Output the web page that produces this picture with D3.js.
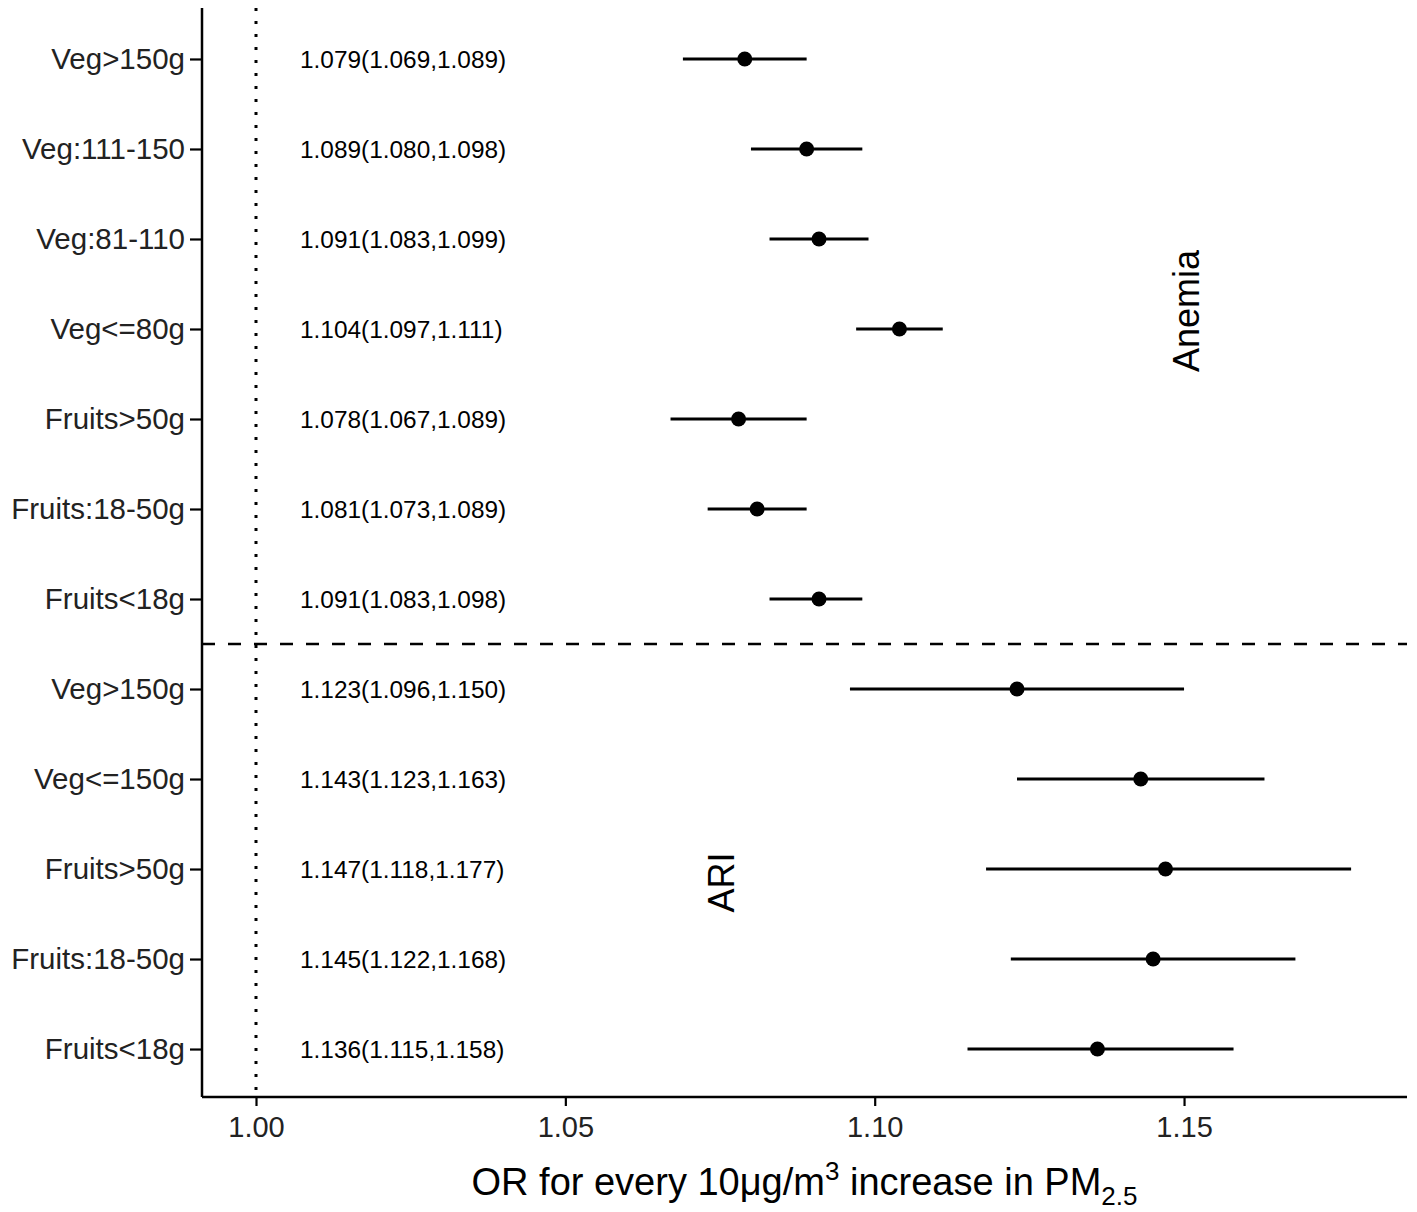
<!DOCTYPE html>
<html>
<head>
<meta charset="utf-8">
<script src="https://cdn.jsdelivr.net/npm/d3@7"></script>
<style>
  body { margin: 0; background: #fff; }
  svg { font-family: "Liberation Sans", Arial, sans-serif; }
</style>
</head>
<body>
<svg id="chart"></svg>
<script>
// rows, top to bottom
const rowLabels = ["Veg>150g", "Veg:111-150", "Veg:81-110", "Veg<=80g", "Fruits>50g", "Fruits:18-50g", "Fruits<18g",
                   "Veg>150g", "Veg<=150g", "Fruits>50g", "Fruits:18-50g", "Fruits<18g"];
const outcome = ["Anemia", "Anemia", "Anemia", "Anemia", "Anemia", "Anemia", "Anemia",
                 "ARI", "ARI", "ARI", "ARI", "ARI"];
const oddsRatio = [1.079, 1.089, 1.091, 1.104, 1.078, 1.081, 1.091, 1.123, 1.143, 1.147, 1.145, 1.136];
const ciLower   = [1.069, 1.080, 1.083, 1.097, 1.067, 1.073, 1.083, 1.096, 1.123, 1.118, 1.122, 1.115];
const ciUpper   = [1.089, 1.098, 1.099, 1.111, 1.089, 1.089, 1.098, 1.150, 1.163, 1.177, 1.168, 1.158];
const xTicks = [1.00, 1.05, 1.10, 1.15];

const width = 1417;
const height = 1212;
const plotLeft = 202, plotRight = 1407, plotTop = 8, plotBottom = 1097;
const pxPerUnit = 6187, xOne = 256;

const svg = d3.select('#chart')
  .attr('width', width)
  .attr('height', height);

const x = d3.scaleLinear()
  .domain([1 - (xOne - plotLeft) / pxPerUnit, 1 + (plotRight - xOne) / pxPerUnit])
  .range([plotLeft, plotRight]);

const y = d3.scalePoint()
  .domain(d3.range(rowLabels.length))
  .range([11, plotBottom])
  .padding(0.533);

const rows = rowLabels.map((label, i) => ({
  i, label, group: outcome[i], or: oddsRatio[i], lo: ciLower[i], hi: ciUpper[i]
}));

// reference line at OR = 1
svg.append('line')
  .attr('x1', x(1)).attr('x2', x(1))
  .attr('y1', plotTop).attr('y2', plotBottom)
  .style('stroke', 'black')
  .style('stroke-width', 3)
  .style('stroke-dasharray', '3,10');

// separator between the two outcomes
const lastAnemia = d3.max(rows.filter(d => d.group === 'Anemia'), d => d.i);
const sepY = (y(lastAnemia) + y(lastAnemia + 1)) / 2;
svg.append('line')
  .attr('x1', plotLeft).attr('x2', plotRight)
  .attr('y1', sepY).attr('y2', sepY)
  .style('stroke', 'black')
  .style('stroke-width', 2.5)
  .style('stroke-dasharray', '13,13');

// axes
const yAxis = svg.append('g')
  .attr('transform', `translate(${plotLeft},0)`)
  .call(d3.axisLeft(y).tickSize(12).tickPadding(5).tickFormat(i => rowLabels[i]));

const xAxis = svg.append('g')
  .attr('transform', `translate(0,${plotBottom})`)
  .call(d3.axisBottom(x).tickValues(xTicks).tickSize(9).tickPadding(10).tickFormat(d3.format('.2f')));

[yAxis, xAxis].forEach(g => {
  g.select('.domain').style('stroke', 'black').style('stroke-width', 2.5);
  g.selectAll('.tick line').style('stroke', 'black').style('stroke-width', 2.2);
  g.selectAll('.tick text')
    .style('font-family', '"Liberation Sans", Arial, sans-serif')
    .style('font-size', '29.5px')
    .style('fill', '#222');
});
xAxis.selectAll('.tick text').style('font-size', '29px');
// ggplot draws the axis lines without the end caps
yAxis.select('.domain').attr('d', `M0,${plotTop}V${plotBottom}`);
xAxis.select('.domain').attr('d', `M${plotLeft},0H${plotRight}`);

// confidence intervals
svg.selectAll('line.ci')
  .data(rows)
  .enter()
  .append('line')
  .attr('class', 'ci')
  .attr('x1', d => x(d.lo))
  .attr('x2', d => x(d.hi))
  .attr('y1', d => y(d.i))
  .attr('y2', d => y(d.i))
  .style('stroke', 'black')
  .style('stroke-width', 3);

// point estimates
svg.selectAll('circle')
  .data(rows)
  .enter()
  .append('circle')
  .attr('cx', d => x(d.or))
  .attr('cy', d => y(d.i))
  .attr('r', 7.5)
  .style('fill', 'black');

// OR (CI) labels
svg.selectAll('text.est')
  .data(rows)
  .enter()
  .append('text')
  .attr('class', 'est')
  .attr('x', 300)
  .attr('y', d => y(d.i))
  .attr('dy', '0.36em')
  .style('font-size', '24.4px')
  .style('fill', 'black')
  .text(d => `${d.or.toFixed(3)}(${d.lo.toFixed(3)},${d.hi.toFixed(3)})`);

// outcome labels
const groupLabels = [
  { name: 'Anemia', xv: 1.1503, row: 2.8 },
  { name: 'ARI', xv: 1.0752, row: 9.15 }
];
svg.selectAll('text.grp')
  .data(groupLabels)
  .enter()
  .append('text')
  .attr('class', 'grp')
  .attr('transform', d => `translate(${x(d.xv)},${y(0) + d.row * y.step()}) rotate(-90)`)
  .attr('text-anchor', 'middle')
  .attr('dy', '0.36em')
  .style('font-size', '36px')
  .style('fill', 'black')
  .text(d => d.name);

// x axis title
const title = svg.append('text')
  .attr('x', (plotLeft + plotRight) / 2)
  .attr('y', 1195)
  .attr('text-anchor', 'middle')
  .style('font-size', '38px')
  .style('fill', 'black');
title.append('tspan').text('OR for every 10\u03bcg/m');
title.append('tspan').attr('dy', -15).style('font-size', '26px').text('3');
title.append('tspan').attr('dy', 15).text(' increase in PM');
title.append('tspan').attr('dy', 10).style('font-size', '26px').text('2.5');
</script>
</body>
</html>
